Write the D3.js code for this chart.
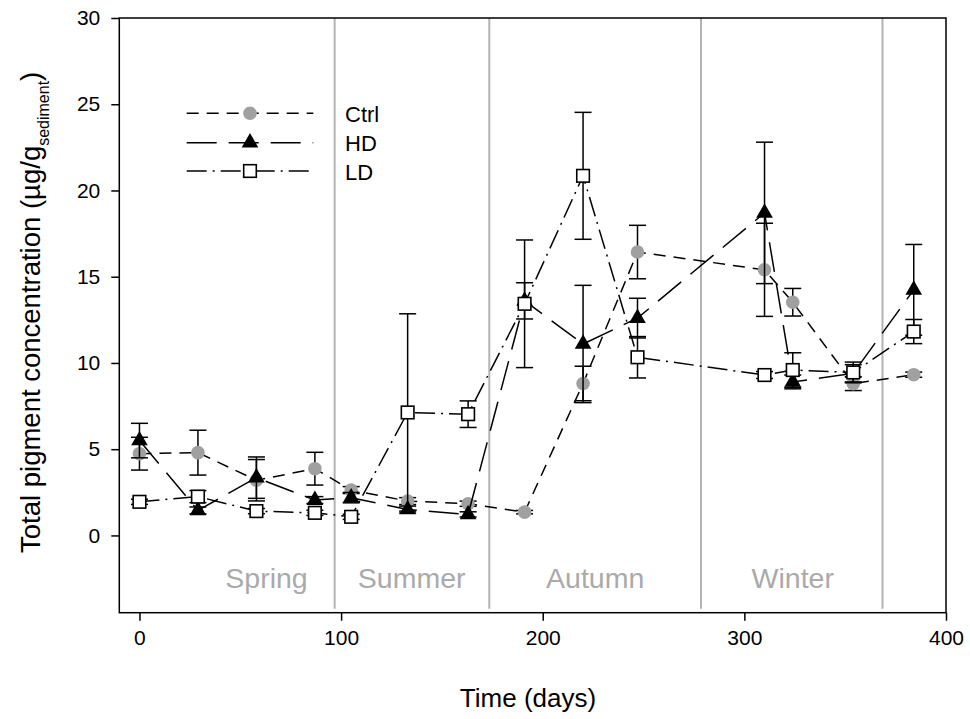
<!DOCTYPE html>
<html>
<head>
<meta charset="utf-8">
<script src="https://cdn.jsdelivr.net/npm/d3@7"></script>
<style>
  html, body { margin: 0; padding: 0; background: #fff; }
  svg { display: block; font-family: "Liberation Sans", Arial, sans-serif; }
</style>
</head>
<body>
<svg id="chart" width="970" height="719"></svg>
<script>
// ---- data ----
const days = [0, 29, 58, 87, 105, 133, 163, 191, 220, 247, 310, 324, 354, 384];
const ctrlMean = [4.74, 4.8, 3.2, 3.87, 2.63, 1.99, 1.84, 1.35, 8.81, 16.43, 15.4, 13.52, 8.8, 9.32];
const ctrlErr  = [0.95, 1.3, 1.2, 0.95, 0.2, 0.2, 0.15, 0.1, 1.0, 1.55, 2.7, 0.8, 0.4, 0.15];
const hdMean   = [5.5, 1.45, 3.35, 2.05, 2.19, 1.5, 1.22, 13.6, 11.1, 12.6, 18.7, 8.9, 9.4, 14.24];
const hdErr    = [1.0, 0.2, 1.2, 0.2, 0.3, 0.2, 0.15, 1.05, 3.4, 1.15, 4.1, 0.4, 0.5, 2.63];
const ldMean   = [1.95, 2.25, 1.41, 1.31, 1.08, 7.13, 7.03, 13.43, 20.85, 10.33, 9.3, 9.59, 9.45, 11.82];
const ldErr    = [0.15, 0.35, 0.15, 0.15, 0.15, 5.72, 0.77, 3.7, 3.68, 1.2, 0.2, 1.0, 0.6, 0.7];
const seriesNames = ["Ctrl", "HD", "LD"];
const xTicks = [0, 100, 200, 300, 400];
const yTicks = [0, 5, 10, 15, 20, 25, 30];
const seasonBounds = [96.8, 173.5, 278.5, 368.5];
const seasonNames = ["Spring", "Summer", "Autumn", "Winter"];
const seasonLabelDays = [63, 135, 226, 324];

// ---- layout ----
const svg = d3.select("#chart");
const L = 119.3, R = 946, T = 18, B = 612.7;
const x = d3.scaleLinear().domain([-10, 400]).range([L, R]);
const y = d3.scaleLinear().domain([-4.48, 30]).range([B, T]);

const styles = {
  Ctrl: { dash: "12,8" },
  HD:   { dash: "30,12" },
  LD:   { dash: "20,6,2,6" }
};

// season dividers
svg.append("g").selectAll("line").data(seasonBounds).join("line")
  .attr("x1", d => x(d)).attr("x2", d => x(d))
  .attr("y1", T).attr("y2", B - 4)
  .attr("stroke", "#b3b3b3").attr("stroke-width", 2);

svg.append("g").selectAll("text").data(seasonNames).join("text")
  .attr("x", (d, i) => x(seasonLabelDays[i]))
  .attr("y", 588)
  .attr("text-anchor", "middle")
  .attr("font-size", 28.5)
  .attr("fill", "#aaaaaa")
  .text(d => d);

// axes
const xAxis = d3.axisBottom(x).tickValues(xTicks).tickSize(8).tickPadding(9).tickFormat(d3.format("d"));
const gx = svg.append("g").attr("transform", `translate(0,${B})`).call(xAxis);
gx.select(".domain").remove();
gx.selectAll(".tick line").attr("stroke", "#000").attr("stroke-width", 1.5);
gx.selectAll(".tick text").attr("font-size", 21).attr("fill", "#000")
  .attr("font-family", "Liberation Sans, Arial, sans-serif");

const yAxis = d3.axisLeft(y).tickValues(yTicks).tickSize(8).tickPadding(11).tickFormat(d3.format("d"));
const gy = svg.append("g").attr("transform", `translate(${L},0)`).call(yAxis);
gy.select(".domain").remove();
gy.selectAll(".tick line").attr("stroke", "#000").attr("stroke-width", 1.5);
gy.selectAll(".tick text").attr("font-size", 21).attr("fill", "#000")
  .attr("font-family", "Liberation Sans, Arial, sans-serif");

// frame
svg.append("rect").attr("x", L).attr("y", T).attr("width", R - L).attr("height", B - T)
  .attr("fill", "none").attr("stroke", "#000").attr("stroke-width", 1.5);

// axis titles
svg.append("text").attr("x", 528).attr("y", 707)
  .attr("text-anchor", "middle").attr("font-size", 26).text("Time (days)");

const yl = svg.append("text")
  .attr("transform", "translate(40,553) rotate(-90)")
  .attr("font-size", 27.5);
yl.append("tspan").text("Total pigment concentration (µg/g");
yl.append("tspan").attr("font-size", 16).attr("dy", 9).text("sediment");
yl.append("tspan").attr("dy", -9).text(")");

// ---- series ----
const tri = d3.symbol().type(d3.symbolTriangle).size(120);

function drawSeries(name, means, errs) {
  const pts = days.map((d, i) => ({ d, m: means[i], e: errs[i] }));
  const g = svg.append("g");
  const line = d3.line().x(p => x(p.d)).y(p => y(p.m));
  g.append("path").datum(pts).attr("d", line)
    .attr("fill", "none").attr("stroke", "#000").attr("stroke-width", 1.5)
    .attr("stroke-dasharray", styles[name].dash);
  const eb = g.append("g").attr("stroke", "#000").attr("stroke-width", 1.5);
  pts.forEach(p => {
    eb.append("line").attr("x1", x(p.d)).attr("x2", x(p.d)).attr("y1", y(p.m - p.e)).attr("y2", y(p.m + p.e));
    [p.m - p.e, p.m + p.e].forEach(v => {
      eb.append("line").attr("x1", x(p.d) - 8.5).attr("x2", x(p.d) + 8.5).attr("y1", y(v)).attr("y2", y(v));
    });
  });
  drawMarkers(g, name, pts.map(p => [x(p.d), y(p.m)]));
}

function drawMarkers(g, name, coords) {
  if (name === "Ctrl") {
    g.selectAll(null).data(coords).join("circle")
      .attr("cx", c => c[0]).attr("cy", c => c[1]).attr("r", 6.8).attr("fill", "#a0a0a0");
  } else if (name === "HD") {
    g.selectAll(null).data(coords).join("path")
      .attr("d", tri).attr("transform", c => `translate(${c[0]},${c[1]})`).attr("fill", "#000");
  } else {
    g.selectAll(null).data(coords).join("rect")
      .attr("x", c => c[0] - 6.3).attr("y", c => c[1] - 6.3).attr("width", 12.6).attr("height", 12.6)
      .attr("fill", "#fff").attr("stroke", "#000").attr("stroke-width", 1.6);
  }
}

drawSeries("Ctrl", ctrlMean, ctrlErr);
drawSeries("HD", hdMean, hdErr);
drawSeries("LD", ldMean, ldErr);

// ---- legend ----
const legY = [113.3, 142.7, 171];
const lg = svg.append("g");
seriesNames.forEach((n, i) => {
  lg.append("line").attr("x1", 186.7).attr("x2", 313.3).attr("y1", legY[i]).attr("y2", legY[i])
    .attr("stroke", "#000").attr("stroke-width", 1.5).attr("stroke-dasharray", styles[n].dash);
  drawMarkers(lg.append("g"), n, [[250, legY[i]]]);
  lg.append("text").attr("x", 345).attr("y", legY[i] + 8.5).attr("font-size", 22).text(n);
});
</script>
</body>
</html>
